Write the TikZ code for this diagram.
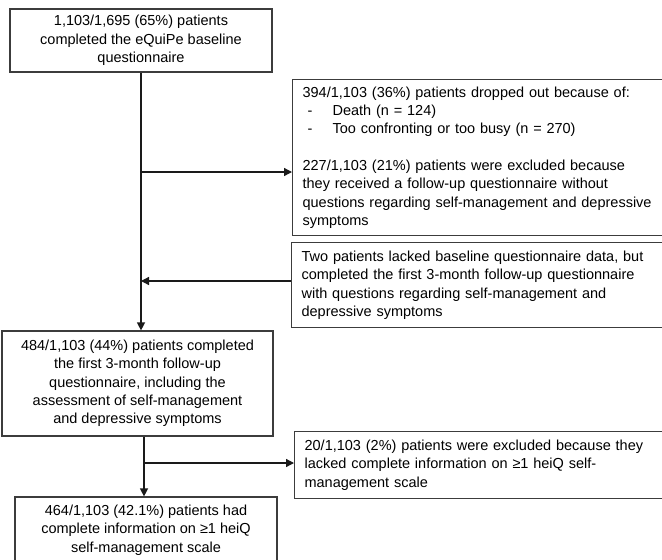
\documentclass[tikz,border=0pt]{standalone}
\usepackage{fontspec}
\setmainfont{Liberation Sans}
\usetikzlibrary{arrows.meta,calc}
\definecolor{boxline}{HTML}{3C3C3C}
\definecolor{conn}{HTML}{1A1A1A}
\tikzset{
  fbox/.style={draw=boxline, line width=1.2pt, rectangle, inner sep=0pt,
    font=\fontsize{14.5}{18.3}\selectfont},
  cbox/.style={fbox, align=center},
  lbox/.style={fbox, align=left, inner xsep=10pt, text width=360pt},
  arr/.style={draw=conn, line width=1.3pt, -{Triangle[length=8pt,width=8pt]}},
  ln/.style={draw=conn, line width=1.3pt}
}
\newcommand{\dashitem}[1]{\makebox[30pt][l]{\hspace{5pt}-}#1}
\begin{document}
\begin{tikzpicture}[x=1pt,y=-1pt]
\useasboundingbox (0,0) rectangle (662,560);
\fill[white] (0,0) rectangle (662,560);
\node[cbox, minimum width=262pt, minimum height=63pt] (b1) at (141,40.5)
  {1,103/1,695 (65\%) patients\\completed the eQuiPe baseline\\questionnaire};
\node[lbox, anchor=north west, minimum height=156pt] (b2) at (292,79)
  {394/1,103 (36\%) patients dropped out because of:\\
   \dashitem{Death (n = 124)}\\
   \dashitem{Too confronting or too busy (n = 270)}\\
   \mbox{}\\
   227/1,103 (21\%) patients were excluded because\\
   they received a follow-up questionnaire without\\
   questions regarding self-management and depressive\\
   symptoms};
\node[lbox, anchor=north west, minimum height=85pt] (b3) at (291,242)
  {Two patients lacked baseline questionnaire data, but\\
   completed the first 3-month follow-up questionnaire\\
   with questions regarding self-management and\\
   depressive symptoms};
\node[cbox, minimum width=271pt, minimum height=105pt] (b4) at (137.5,383.5)
  {484/1,103 (44\%) patients completed\\the first 3-month follow-up\\questionnaire, including the\\assessment of self-management\\and depressive symptoms};
\node[lbox, anchor=north west, minimum height=67pt] (b5) at (294,431)
  {20/1,103 (2\%) patients were excluded because they\\
   lacked complete information on ≥1 heiQ self-\\
   management scale};
\node[cbox, minimum width=262pt, minimum height=66pt] (b6) at (146,530)
  {464/1,103 (42.1\%) patients had\\complete information on ≥1 heiQ\\self-management scale};
% connectors
\coordinate (j1) at (141,172);
\coordinate (j2) at (141,281);
\coordinate (j3) at (144,463);
\draw[arr] (b1.south) -- (b1.south |- b4.north);
\draw[arr] (j1) -- (j1 -| b2.west);
\draw[arr] (j2 -| b3.west) -- (j2);
\draw[arr] (j3 |- b4.south) -- (j3 |- b6.north);
\draw[arr] (j3) -- (j3 -| b5.west);
\end{tikzpicture}
\end{document}
